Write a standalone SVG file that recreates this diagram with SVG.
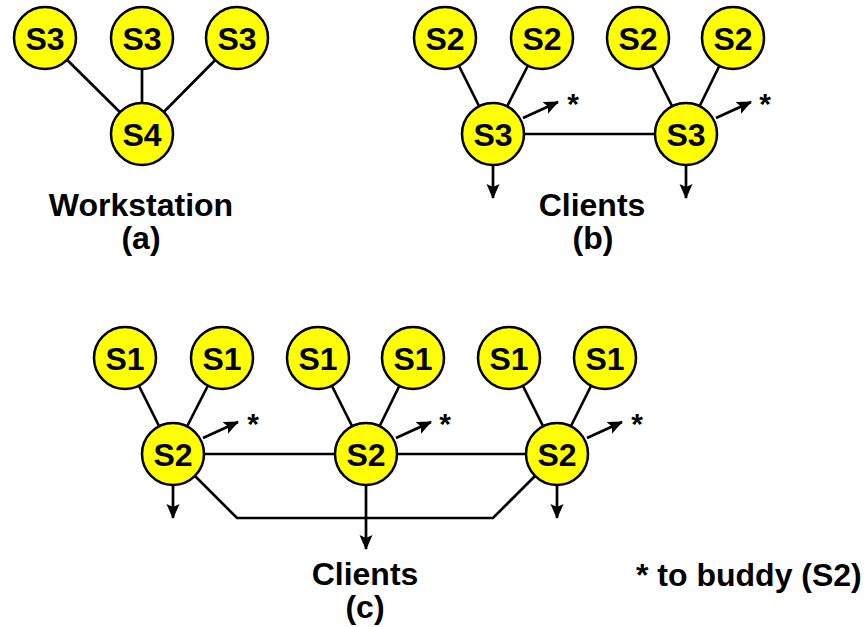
<svg xmlns="http://www.w3.org/2000/svg" width="865" height="627" viewBox="0 0 865 627">
<style>
.n circle{fill:#ffff00;stroke:#000;stroke-width:2.5}
.n text{font-family:"Liberation Sans",Arial,sans-serif;font-weight:bold;font-size:32px;text-anchor:middle;fill:#000}
.c line,.c polyline{stroke:#000;stroke-width:2.7;fill:none}
.a{marker-end:url(#ah)}
.lbl{font-family:"Liberation Sans",Arial,sans-serif;font-weight:bold;font-size:32px;fill:#000}
.mid{text-anchor:middle}
.star{font-family:"Liberation Sans",Arial,sans-serif;font-weight:bold;font-size:30px;text-anchor:middle;fill:#000}
</style>
<defs>
<marker id="ah" markerWidth="15" markerHeight="14" refX="14" refY="7" orient="auto" markerUnits="userSpaceOnUse">
<path d="M0,0.5 L15,7 L0,13.5 L3,7 Z" fill="#000"/>
</marker>
</defs>
<g class="c" id="connectors">
<line x1="45" y1="38" x2="142" y2="134"/>
<line x1="142" y1="38" x2="142" y2="134"/>
<line x1="237" y1="38" x2="142" y2="134"/>
<line x1="445" y1="38" x2="493" y2="134"/>
<line x1="542" y1="38" x2="493" y2="134"/>
<line x1="638" y1="38" x2="686" y2="134"/>
<line x1="733" y1="38" x2="686" y2="134"/>
<line x1="493" y1="134" x2="686" y2="134"/>
<line class="a" x1="523" y1="118" x2="558" y2="102"/>
<line class="a" x1="716" y1="118" x2="751" y2="102"/>
<line class="a" x1="493" y1="165" x2="493" y2="198"/>
<line class="a" x1="686" y1="165" x2="686" y2="198"/>
<line x1="125" y1="358" x2="173" y2="454"/>
<line x1="222" y1="358" x2="173" y2="454"/>
<line x1="318" y1="358" x2="366" y2="454"/>
<line x1="413" y1="358" x2="366" y2="454"/>
<line x1="509" y1="358" x2="557" y2="454"/>
<line x1="605" y1="358" x2="557" y2="454"/>
<line x1="173" y1="454" x2="557" y2="454"/>
<polyline points="173,454 237,518 493,518 557,454"/>
<line class="a" x1="203" y1="438" x2="238" y2="422"/>
<line class="a" x1="396" y1="438" x2="431" y2="422"/>
<line class="a" x1="587" y1="438" x2="622" y2="422"/>
<line class="a" x1="173" y1="485" x2="173" y2="518"/>
<line class="a" x1="366" y1="485" x2="366" y2="549"/>
<line class="a" x1="557" y1="485" x2="557" y2="518"/>
</g>
<g id="a-s3-1" class="n"><circle cx="45" cy="38" r="31"/><text x="45" y="49.5">S3</text></g>
<g id="a-s3-2" class="n"><circle cx="142" cy="38" r="31"/><text x="142" y="49.5">S3</text></g>
<g id="a-s3-3" class="n"><circle cx="237" cy="38" r="31"/><text x="237" y="49.5">S3</text></g>
<g id="a-s4" class="n"><circle cx="142" cy="134" r="31"/><text x="142" y="145.5">S4</text></g>
<g id="b-s2-1" class="n"><circle cx="445" cy="38" r="31"/><text x="445" y="49.5">S2</text></g>
<g id="b-s2-2" class="n"><circle cx="542" cy="38" r="31"/><text x="542" y="49.5">S2</text></g>
<g id="b-s2-3" class="n"><circle cx="638" cy="38" r="31"/><text x="638" y="49.5">S2</text></g>
<g id="b-s2-4" class="n"><circle cx="733" cy="38" r="31"/><text x="733" y="49.5">S2</text></g>
<g id="b-s3-1" class="n"><circle cx="493" cy="134" r="31"/><text x="493" y="145.5">S3</text></g>
<g id="b-s3-2" class="n"><circle cx="686" cy="134" r="31"/><text x="686" y="145.5">S3</text></g>
<g id="c-s1-1" class="n"><circle cx="125" cy="358" r="31"/><text x="125" y="369.5">S1</text></g>
<g id="c-s1-2" class="n"><circle cx="222" cy="358" r="31"/><text x="222" y="369.5">S1</text></g>
<g id="c-s1-3" class="n"><circle cx="318" cy="358" r="31"/><text x="318" y="369.5">S1</text></g>
<g id="c-s1-4" class="n"><circle cx="413" cy="358" r="31"/><text x="413" y="369.5">S1</text></g>
<g id="c-s1-5" class="n"><circle cx="509" cy="358" r="31"/><text x="509" y="369.5">S1</text></g>
<g id="c-s1-6" class="n"><circle cx="605" cy="358" r="31"/><text x="605" y="369.5">S1</text></g>
<g id="c-s2-1" class="n"><circle cx="173" cy="454" r="31"/><text x="173" y="465.5">S2</text></g>
<g id="c-s2-2" class="n"><circle cx="366" cy="454" r="31"/><text x="366" y="465.5">S2</text></g>
<g id="c-s2-3" class="n"><circle cx="557" cy="454" r="31"/><text x="557" y="465.5">S2</text></g>
<g id="stars">
<text class="star" x="573" y="114">*</text>
<text class="star" x="765" y="114">*</text>
<text class="star" x="253" y="434">*</text>
<text class="star" x="445" y="434">*</text>
<text class="star" x="637" y="434">*</text>
</g>
<g id="labels">
<text class="lbl mid" x="141" y="216">Workstation</text>
<text class="lbl mid" x="141" y="249">(a)</text>
<text class="lbl mid" x="592" y="216">Clients</text>
<text class="lbl mid" x="593" y="249">(b)</text>
<text class="lbl mid" x="365" y="585">Clients</text>
<text class="lbl mid" x="365" y="618">(c)</text>
<text class="lbl" x="636" y="586">* to buddy (S2)</text>
</g>
</svg>
